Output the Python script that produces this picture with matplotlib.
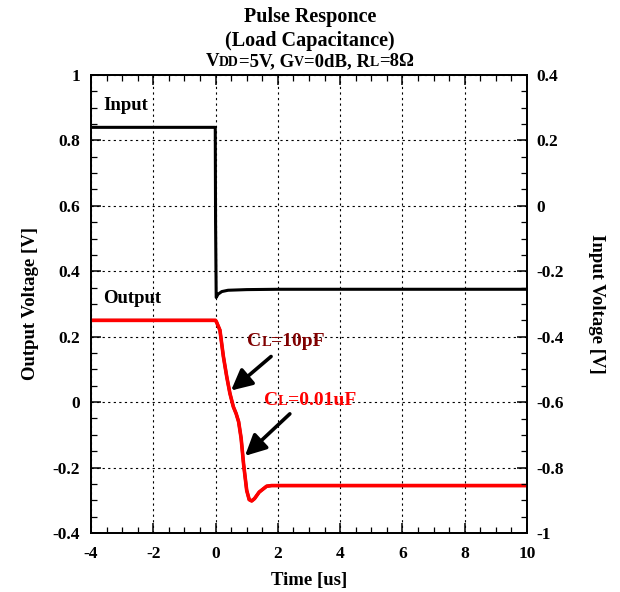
import matplotlib
matplotlib.use("Agg")
import matplotlib.pyplot as plt
from matplotlib.ticker import MultipleLocator
from matplotlib.offsetbox import TextArea, HPacker, AnnotationBbox

plt.rcParams['font.family'] = ['Liberation Serif', 'DejaVu Serif']
plt.rcParams['font.weight'] = 'bold'
plt.rcParams['axes.unicode_minus'] = False

# data
out_t = [-4, 0, 0.03, 0.14, 0.25, 0.36, 0.46, 0.57, 0.66, 0.74, 0.82, 0.9, 1.0, 1.08, 1.16, 1.25, 1.4, 1.64, 1.8, 2.5, 10]
out_v = [0.25, 0.25, 0.245, 0.22, 0.14, 0.077, 0.027, -0.014, -0.035, -0.06, -0.11, -0.19, -0.27, -0.298, -0.302, -0.295, -0.275, -0.257, -0.255, -0.255, -0.255]
in_t = [-4, -0.01, 0.0, 0.02, 0.08, 0.2, 0.4, 1.0, 2.0, 10]
in_v = [0.24, 0.24, -0.05, -0.28, -0.27, -0.262, -0.258, -0.256, -0.255, -0.255]

fig = plt.figure(figsize=(6.2, 5.92), dpi=100)
ax = fig.add_axes([91 / 620, 59 / 592, 436 / 620, 458 / 592])
ax2 = ax.twinx()

ax.plot(out_t, out_v, color='#8b0000', lw=2.2, zorder=3)
ax.plot(out_t, out_v, color='#ff0000', lw=2.6, zorder=4)
ax2.plot(in_t, in_v, color='black', lw=2.2)

ax.set_xlim(-4, 10)
ax.set_ylim(-0.4, 1.0)
ax2.set_ylim(-1.0, 0.4)
ax.set_xticks(range(-4, 11, 2))
ax.set_yticks([-0.4, -0.2, 0, 0.2, 0.4, 0.6, 0.8, 1.0])
ax.set_yticklabels(['-0.4', '-0.2', '0', '0.2', '0.4', '0.6', '0.8', '1'])
ax2.set_yticks([-1.0, -0.8, -0.6, -0.4, -0.2, 0, 0.2, 0.4])
ax2.set_yticklabels(['-1', '-0.8', '-0.6', '-0.4', '-0.2', '0', '0.2', '0.4'])
ax.xaxis.set_minor_locator(MultipleLocator(0.5))
ax.yaxis.set_minor_locator(MultipleLocator(0.05))
ax2.yaxis.set_minor_locator(MultipleLocator(0.05))
ax.grid(True, color='black', linestyle=(0, (2, 3)), lw=0.8)
for a in (ax, ax2):
    a.tick_params(which='major', direction='in', labelsize=12.5, length=7, width=1.1)
    a.tick_params(which='minor', direction='in', length=4, width=0.9)
    for s in a.spines.values():
        s.set_linewidth(1.3)
ax.tick_params(which='both', top=True)
ax.tick_params(axis='x', pad=9.5)
ax.tick_params(axis='y', pad=8)
ax2.tick_params(axis='y', pad=7)

ax.set_xlabel('Time [us]', fontsize=13.5, fontweight='bold', labelpad=7)
ax.set_ylabel('Output Voltage [V]', fontsize=13.5, fontweight='bold', labelpad=9.5)
ax2.set_ylabel('Input Voltage [V]', fontsize=13.5, fontweight='bold', rotation=-90, labelpad=29)

ax.text(-3.6, 0.88, 'Input', fontsize=13.5, fontweight='bold', va='bottom')
ax.text(-3.6, 0.29, 'Output', fontsize=13.5, fontweight='bold', va='bottom')

# title
fig.text(0.5, 1 - 17 / 592, 'Pulse Responce', ha='center', va='center', fontsize=14.5, fontweight='bold')
fig.text(0.5, 1 - 41 / 592, '(Load Capacitance)', ha='center', va='center', fontsize=14.5, fontweight='bold')


def mixed(parts, color='black'):
    boxes = [TextArea(s, textprops=dict(fontsize=fs, fontweight='bold', color=color)) for s, fs in parts]
    return HPacker(children=boxes, align='baseline', pad=0, sep=0)


t3 = mixed([('V', 13.5), ('DD', 10), ('=5V, G', 13.5), ('V', 10), ('=0dB, R', 13.5), ('L', 10), ('=8\u03a9', 13.5)])
fig.add_artist(AnnotationBbox(t3, (0.5, 1 - 62 / 592), xycoords='figure fraction', frameon=False, box_alignment=(0.5, 0.5)))

c1 = mixed([('C', 14), ('L', 10.5), ('=10pF', 14)], color='#800000')
ax.add_artist(AnnotationBbox(c1, (1.02, 0.185), xycoords='data', frameon=False, box_alignment=(0, 0.5)))
c2 = mixed([('C', 14), ('L', 10.5), ('=0.01uF', 14)], color='#ff0000')
ax.add_artist(AnnotationBbox(c2, (1.55, 0.005), xycoords='data', frameon=False, box_alignment=(0, 0.5)))

arrow = dict(arrowstyle='-|>,head_length=0.7,head_width=0.35', color='black', lw=2.6, mutation_scale=18)
ax.annotate('', xy=(0.43, 0.03), xytext=(1.85, 0.145), arrowprops=arrow)
ax.annotate('', xy=(0.88, -0.17), xytext=(2.45, -0.03), arrowprops=arrow)

fig.savefig('out.png', dpi=100)
